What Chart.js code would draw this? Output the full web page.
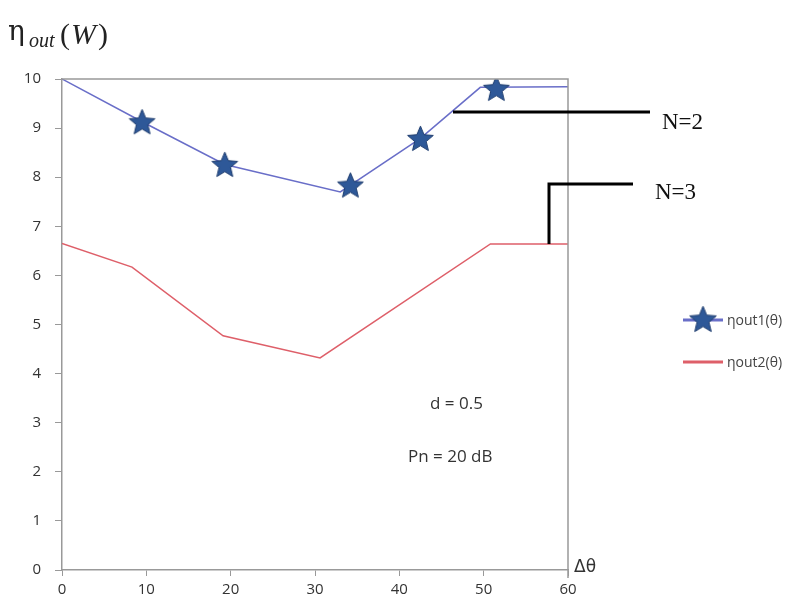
<!DOCTYPE html>
<html>
<head>
<meta charset="utf-8">
<script src="https://cdn.jsdelivr.net/npm/chart.js@4/dist/chart.umd.min.js"></script>
<style>
  html, body { margin: 0; padding: 0; background: #fff; }
  #wrap { width: 797px; height: 608px; position: relative; }
</style>
</head>
<body>
<div id="wrap"><canvas id="effChart" width="797" height="608"></canvas></div>
<script>
// Daten
const blueX = [0, 9.5, 19.3, 33.0, 42.5, 49.6, 60];
const blueY = [10, 9.13, 8.26, 7.70, 8.79, 9.83, 9.84];
const starX = [9.5, 19.3, 34.2, 42.5, 51.5];
const starY = [9.13, 8.26, 7.84, 8.79, 9.81];
const redX = [0, 8.3, 19.1, 30.6, 50.8, 60];
const redY = [6.65, 6.17, 4.77, 4.32, 6.64, 6.64];
const xTicks = [0, 10, 20, 30, 40, 50, 60];
const yTicks = [0, 1, 2, 3, 4, 5, 6, 7, 8, 9, 10];
const legendLabels = ['ηout1(θ)', 'ηout2(θ)'];

const BLUE_LINE = 'rgb(105, 110, 200)';
const STAR_FILL = 'rgb(46, 88, 152)';
const RED_LINE = 'rgb(222, 95, 105)';

function toPoints(xs, ys) {
    return xs.map((x, i) => ({ x: x, y: ys[i] }));
}

// gefuellter Stern als Punktstil
function makeStar(size) {
    const c = document.createElement('canvas');
    c.width = size; c.height = size;
    const g = c.getContext('2d');
    const cx = size / 2, cy = size / 2 + size * 0.04;
    const outer = size / 2 - 1, inner = outer * 0.45;
    g.beginPath();
    for (let i = 0; i < 10; i++) {
        const r = i % 2 === 0 ? outer : inner;
        const a = -Math.PI / 2 + i * Math.PI / 5;
        g.lineTo(cx + r * Math.cos(a), cy + r * Math.sin(a));
    }
    g.closePath();
    g.fillStyle = STAR_FILL;
    g.fill();
    g.strokeStyle = 'rgb(30, 60, 110)';
    g.lineWidth = 1;
    g.stroke();
    return c;
}
const starImg = makeStar(29);

const extras = {
    id: 'extras',
    afterDraw(chart) {
        const ctx = chart.ctx;
        const a = chart.chartArea;
        ctx.save();

        // Rahmen oben und rechts
        ctx.strokeStyle = '#999';
        ctx.lineWidth = 1.5;
        ctx.beginPath();
        ctx.moveTo(a.left, a.top);
        ctx.lineTo(a.right, a.top);
        ctx.lineTo(a.right, a.bottom + 8);
        ctx.stroke();

        // Achsentitel
        ctx.fillStyle = '#222';
        ctx.textBaseline = 'alphabetic';
        ctx.font = '28px "DejaVu Serif"';
        ctx.fillText('η', 8, 40);
        ctx.font = 'italic 20px "Liberation Serif"';
        ctx.fillText('out', 29, 47);
        ctx.font = '30px "Liberation Serif"';
        ctx.fillText('(', 60, 44);
        ctx.fillText(')', 98, 44);
        ctx.font = 'italic 30px "Liberation Serif"';
        ctx.fillText('W', 71, 44);

        ctx.font = '17px "DejaVu Sans"';
        ctx.fillStyle = '#333';
        ctx.fillText('Δθ', 574, 572);

        ctx.font = '17px "Open Sans"';
        ctx.fillStyle = '#333';
        ctx.fillText('d = 0.5', 430, 409);
        ctx.fillText('Pn = 20 dB', 408, 462);

        // N-Markierungen
        ctx.strokeStyle = '#000';
        ctx.lineWidth = 3;
        ctx.beginPath();
        ctx.moveTo(453, 112);
        ctx.lineTo(650, 112);
        ctx.stroke();
        ctx.beginPath();
        ctx.moveTo(549, 244);
        ctx.lineTo(549, 184);
        ctx.lineTo(633, 184);
        ctx.stroke();
        ctx.fillStyle = '#111';
        ctx.font = '23px "Liberation Serif"';
        ctx.fillText('N=2', 662, 129);
        ctx.fillText('N=3', 655, 199);

        // Legende
        ctx.strokeStyle = BLUE_LINE;
        ctx.lineWidth = 3;
        ctx.beginPath();
        ctx.moveTo(683, 320);
        ctx.lineTo(723, 320);
        ctx.stroke();
        ctx.drawImage(starImg, 688, 304, 30, 30);
        ctx.strokeStyle = RED_LINE;
        ctx.beginPath();
        ctx.moveTo(683, 362);
        ctx.lineTo(723, 362);
        ctx.stroke();
        ctx.fillStyle = '#444';
        ctx.font = '14px "Open Sans"';
        ctx.textBaseline = 'middle';
        ctx.fillText(legendLabels[0], 727, 321);
        ctx.fillText(legendLabels[1], 727, 363);
        ctx.restore();
    }
};

const canvas = document.getElementById('effChart').getContext('2d');
new Chart(canvas, {
    type: 'scatter',
    data: {
        datasets: [{
            label: legendLabels[0],
            data: toPoints(blueX, blueY),
            showLine: true,
            borderColor: BLUE_LINE,
            borderWidth: 1.5,
            pointRadius: 0,
            order: 2
        }, {
            label: 'stars',
            data: toPoints(starX, starY),
            showLine: false,
            pointStyle: starImg,
            pointRadius: 14,
            order: 1
        }, {
            label: legendLabels[1],
            data: toPoints(redX, redY),
            showLine: true,
            borderColor: RED_LINE,
            borderWidth: 1.5,
            pointRadius: 0,
            order: 3
        }]
    },
    options: {
        responsive: false,
        animation: false,
        layout: {
            padding: { left: 0, right: 229, top: 79, bottom: 0 }
        },
        scales: {
            x: {
                type: 'linear',
                min: 0,
                max: 60,
                afterBuildTicks: s => { s.ticks = xTicks.map(v => ({ value: v })); },
                afterFit: s => { s.height = 38; },
                grid: { drawOnChartArea: false, color: '#999', tickLength: 6 },
                border: { color: '#999', width: 1.5 },
                ticks: { color: '#333', font: { family: 'Open Sans', size: 15 }, padding: 5 }
            },
            y: {
                type: 'linear',
                min: 0,
                max: 10,
                afterBuildTicks: s => { s.ticks = yTicks.map(v => ({ value: v })); },
                afterFit: s => { s.width = 62; },
                grid: { drawOnChartArea: false, color: '#999', tickLength: 7 },
                border: { color: '#999', width: 1.5 },
                ticks: { color: '#333', font: { family: 'Open Sans', size: 15 }, padding: 14 }
            }
        },
        plugins: {
            legend: { display: false },
            tooltip: { enabled: false }
        }
    },
    plugins: [extras]
});
</script>
</body>
</html>
